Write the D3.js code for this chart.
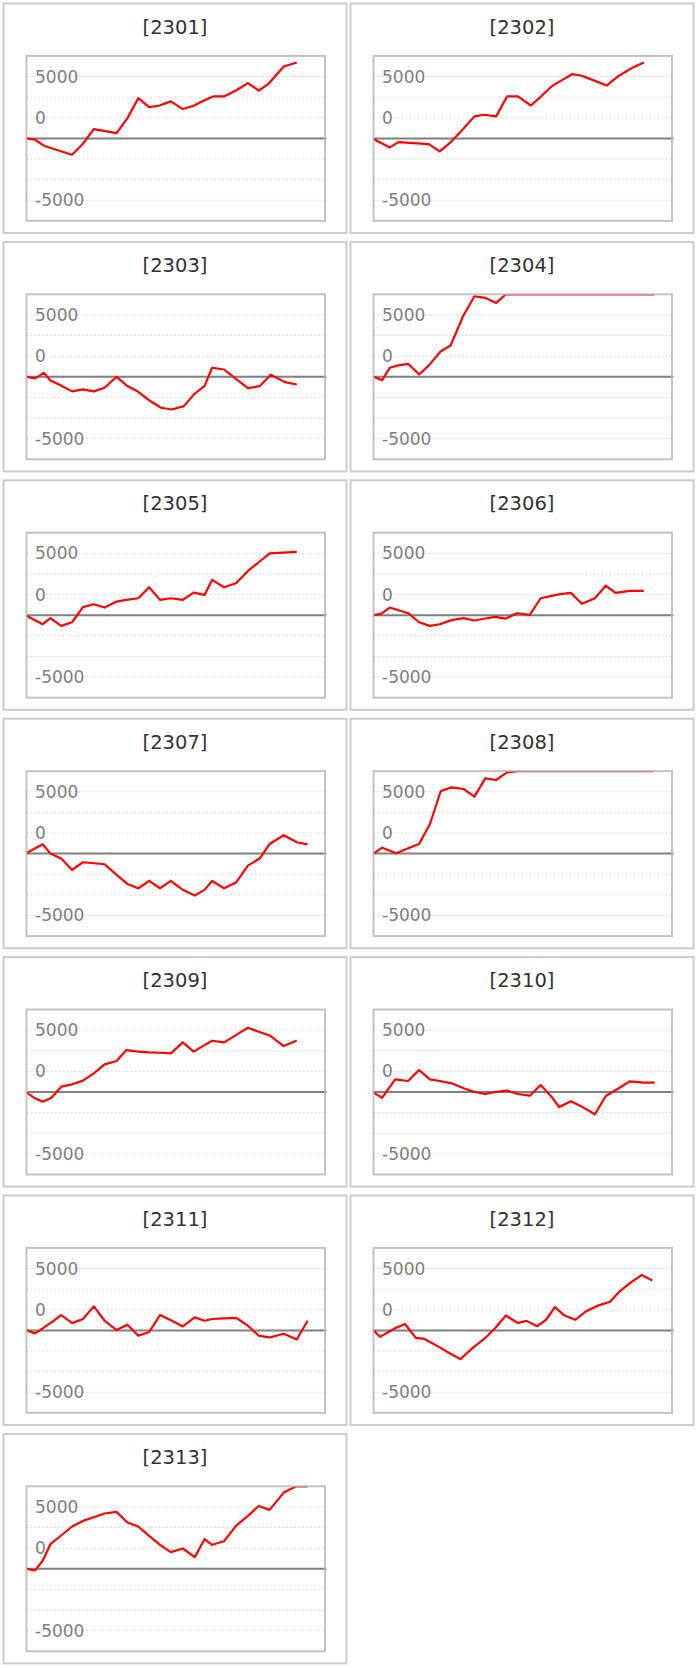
<!DOCTYPE html>
<html><head><meta charset="utf-8">
<script src="https://cdn.jsdelivr.net/npm/d3@7"></script>
<style>body{margin:0;background:#fff}svg{display:block}</style>
</head><body><svg id="c" width="698" height="1668"></svg>
<script>
// ---- data ----
const codes = ["2301","2302","2303","2304","2305","2306","2307","2308","2309","2310","2311","2312","2313"];

const s2301 = [[0,0],[0.8,-110],[1.6,-590],[4.2,-1320],[5.2,-430],[6.2,750],[8.3,430],[9.3,1640],[10.3,3250],[11.3,2530],[12.2,2640],[13.3,2990],[14.4,2370],[15.4,2640],[16.3,3040],[17.2,3390],[18.2,3390],[19.3,3870],[20.4,4470],[21.4,3870],[22.3,4410],[23.7,5810],[24.9,6130]];
const s2302 = [[0,-50],[1.5,-730],[2.3,-300],[5.1,-460],[6.1,-1050],[7.1,-320],[8.2,700],[9.3,1780],[10.2,1910],[11.3,1780],[12.3,3390],[13.3,3390],[14.5,2660],[15.5,3440],[16.4,4200],[17.4,4730],[18.3,5190],[19.2,5060],[20.4,4650],[21.5,4280],[22.5,5000],[23.8,5680],[24.9,6130]];
const s2303 = [[0,0],[0.8,-130],[1.6,320],[2.2,-300],[3.1,-670],[4.2,-1180],[5.2,-1020],[6.2,-1180],[7.2,-890],[8.3,0],[9.3,-750],[10.3,-1210],[11.4,-1960],[12.4,-2500],[13.4,-2640],[14.5,-2370],[15.5,-1350],[16.4,-750],[17.1,730],[18.2,590],[19.3,-160],[20.4,-920],[21.5,-750],[22.5,160],[23.8,-430],[24.9,-620]];
const s2304 = [[0,0],[0.8,-270],[1.5,730],[2.3,920],[3.2,1050],[4.2,190],[5.1,920],[6.2,2070],[7.1,2530],[8.3,4980],[9.3,6510],[10.3,6380],[11.3,5970],[12.2,7200],[13.3,7500],[14.4,7900],[15.4,8200],[16.4,8600],[17.1,8400],[18.2,8900],[19.3,9300],[20.4,9700],[21.4,9500],[22.4,10100],[23.7,10600],[24.9,11000],[25.9,11300]];
const s2305 = [[0,-50],[1.5,-730],[2.2,-240],[3.2,-860],[4.2,-570],[5.2,650],[6.2,890],[7.2,620],[8.3,1100],[9.2,1240],[10.3,1370],[11.3,2260],[12.3,1240],[13.3,1370],[14.4,1240],[15.4,1830],[16.4,1640],[17.1,2850],[18.2,2260],[19.3,2580],[20.4,3580],[21.4,4280],[22.4,5000],[23.7,5060],[24.9,5110]];
const s2306 = [[0,0],[0.7,110],[1.5,620],[3.2,160],[4.2,-570],[5.2,-860],[6.1,-730],[7.2,-400],[8.3,-240],[9.3,-430],[10.3,-270],[11.2,-130],[12.2,-270],[13.2,160],[14.4,30],[15.4,1370],[16.4,1560],[17.2,1700],[18.2,1800],[19.2,920],[20.4,1370],[21.4,2390],[22.3,1800],[23.6,1960],[24.9,1960]];
const s2307 = [[0,50],[1.5,750],[2.2,0],[3.2,-400],[4.2,-1320],[5.2,-700],[7.2,-860],[8.3,-1720],[9.3,-2450],[10.3,-2800],[11.3,-2210],[12.3,-2800],[13.3,-2210],[14.4,-2930],[15.5,-3390],[16.4,-2930],[17.1,-2210],[18.2,-2800],[19.3,-2340],[20.4,-970],[21.5,-380],[22.4,780],[23.7,1480],[24.9,920],[25.9,750]];
const s2308 = [[0,0],[0.8,480],[2.1,30],[3.2,430],[4.2,780],[5.2,2390],[6.2,5060],[7.2,5350],[8.3,5220],[9.3,4600],[10.3,6080],[11.3,5950],[12.3,6560],[13.3,6900],[14.4,7300],[15.4,7600],[16.4,8000],[17.1,8300],[18.2,8100],[19.3,8600],[20.4,9000],[21.4,9400],[22.4,9200],[23.7,9800],[24.9,10300],[25.8,10600]];
const s2309 = [[0,-50],[0.8,-510],[1.5,-780],[2.3,-460],[3.2,430],[4.2,620],[5.2,920],[6.2,1510],[7.2,2230],[8.3,2500],[9.2,3390],[10.3,3260],[11.3,3200],[12.3,3170],[13.3,3120],[14.4,4010],[15.4,3260],[16.4,3790],[17.1,4140],[18.2,4010],[19.3,4600],[20.4,5190],[21.4,4870],[22.4,4570],[23.7,3710],[24.9,4170]];
const s2310 = [[0,-50],[0.8,-460],[2.0,1020],[3.2,890],[4.2,1780],[5.2,1020],[6.1,890],[7.2,700],[8.3,300],[9.2,30],[10.3,-160],[11.2,0],[12.3,110],[13.3,-160],[14.4,-300],[15.4,570],[16.4,-380],[17.1,-1210],[18.2,-750],[19.3,-1240],[20.4,-1800],[21.4,-320],[22.6,300],[23.6,860],[24.9,750],[25.9,750]];
const s2311 = [[0,0],[0.8,-240],[2.3,650],[3.2,1240],[4.2,590],[5.2,920],[6.2,1940],[7.2,780],[8.3,30],[9.3,460],[10.3,-430],[11.3,-130],[12.3,1240],[13.4,780],[14.4,320],[15.5,1050],[16.4,780],[17.1,920],[18.2,970],[19.3,1020],[20.4,380],[21.4,-430],[22.4,-570],[23.7,-270],[24.9,-730],[25.9,780]];
const s2312 = [[0,0],[0.6,-520],[2.0,170],[2.9,520],[3.9,-600],[4.7,-690],[6.1,-1370],[7.1,-1890],[8.0,-2320],[9.2,-1370],[10.2,-690],[11.2,170],[12.2,1200],[13.3,600],[14.1,770],[15.1,340],[15.9,860],[16.7,1890],[17.6,1200],[18.6,860],[19.6,1550],[20.6,1980],[21.8,2320],[22.7,3180],[23.7,3870],[24.7,4470],[25.7,4040]];
const s2313 = [[0,0],[0.8,-130],[1.5,670],[2.2,1990],[3.2,2690],[4.2,3420],[5.2,3870],[6.2,4170],[7.2,4470],[8.3,4600],[9.3,3740],[10.3,3420],[11.3,2660],[12.3,1940],[13.3,1350],[14.4,1640],[15.5,940],[16.4,2390],[17.1,1940],[18.2,2230],[19.3,3470],[20.4,4280],[21.4,5080],[22.4,4760],[23.7,6160],[24.8,6650],[25.9,7000]];

const seriesList = [s2301,s2302,s2303,s2304,s2305,s2306,s2307,s2308,s2309,s2310,s2311,s2312,s2313];

const gridValues = [-5000,-3333,-1667,1667,3333,5000];
const tickLabels = ["5000","0","-5000"];
const tickLabelValues = [5000,1667,-5000];
const xDomain = [0,27.5];
const yDomain = [-6667,6667];

// ---- layout ----
const colX = [3.5, 350.5];
const panelW = 343, panelH = 229.5, rowPitch = 238.4, top0 = 3.5;
const plotDX = 23, plotDY = 52.4, plotW = 298.5, plotH = 165;

const svg = d3.select("#c");
svg.append("rect").attr("width",698).attr("height",1668).attr("fill","#fff");
const defs = svg.append("defs");

codes.forEach((code,i)=>{
  const col = i%2, row = Math.floor(i/2);
  const px = colX[col], py = top0 + row*rowPitch;
  const g = svg.append("g").attr("transform",`translate(${px},${py})`);
  g.append("rect").attr("width",panelW).attr("height",panelH)
    .attr("fill","#fff").attr("stroke","#cccccc").attr("stroke-width",2);
  g.append("text").attr("x",panelW/2).attr("y",30).attr("text-anchor","middle")
    .attr("font-family","DejaVu Sans").attr("font-size",19.5).attr("fill","#333")
    .text("["+code+"]");

  const pg = g.append("g").attr("transform",`translate(${plotDX},${plotDY})`);
  const x = d3.scaleLinear().domain(xDomain).range([0,plotW]);
  const y = d3.scaleLinear().domain(yDomain).range([plotH,0]).clamp(true);

  pg.append("rect").attr("width",plotW).attr("height",plotH).attr("fill","#fff");
  pg.selectAll("line.grid").data(gridValues).join("line").attr("class","grid")
    .attr("x1",0).attr("x2",plotW).attr("y1",d=>y(d)).attr("y2",d=>y(d))
    .attr("stroke","#d9d9d9").attr("stroke-width",1).attr("stroke-dasharray","2,2");
  pg.selectAll("text.tl").data(tickLabelValues).join("text").attr("class","tl")
    .attr("x",8.5).attr("y",d=>y(d)+6)
    .attr("font-family","DejaVu Sans").attr("font-size",17).attr("fill","#808080")
    .text((d,j)=>tickLabels[j]);
  pg.append("line").attr("x1",0).attr("x2",plotW+1.5).attr("y1",y(0)).attr("y2",y(0))
    .attr("stroke","#808080").attr("stroke-width",2);

  const cid = "clip"+code;
  defs.append("clipPath").attr("id",cid).append("rect")
    .attr("x",-3).attr("y",0).attr("width",plotW+3).attr("height",plotH);
  const line = d3.line().x(d=>x(d[0])).y(d=>y(d[1]));
  pg.append("path").datum(seriesList[i]).attr("d",line)
    .attr("fill","none").attr("stroke","#ff0000").attr("stroke-width",2.2)
    .attr("stroke-linejoin","round").attr("clip-path",`url(#${cid})`);
  pg.append("rect").attr("width",plotW).attr("height",plotH)
    .attr("fill","none").attr("stroke","#b4b4b4").attr("stroke-opacity",0.8).attr("stroke-width",2);
});
</script></body></html>
